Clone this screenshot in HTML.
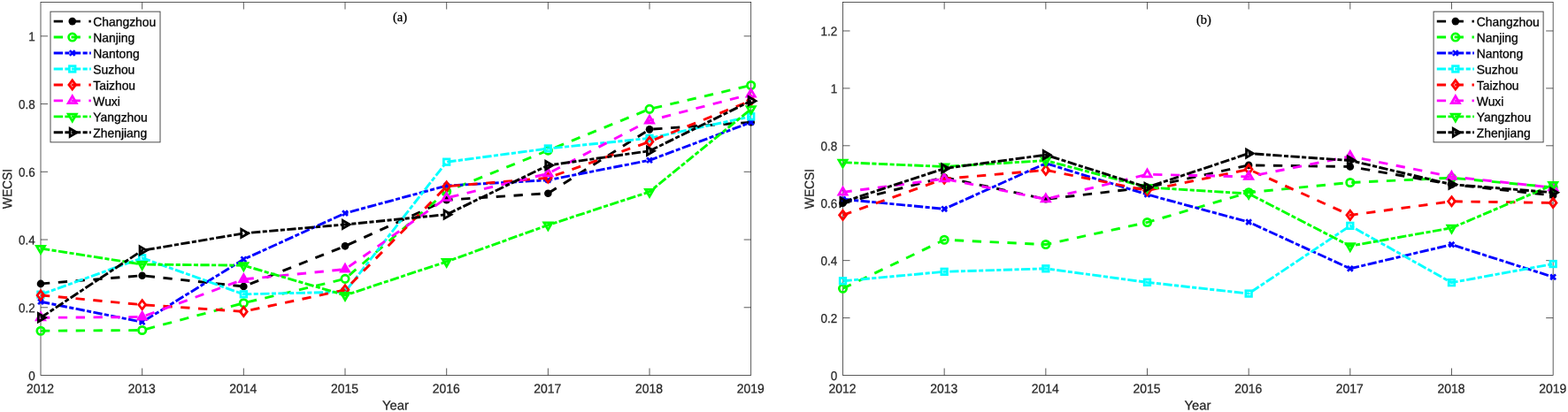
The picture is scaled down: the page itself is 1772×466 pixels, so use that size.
<!DOCTYPE html>
<html lang="en">
<head>
<meta charset="utf-8">
<title>WECSI by city, 2012-2019</title>
<style>
html, body { margin: 0; padding: 0; background: #ffffff; }
body { width: 1772px; height: 466px; overflow: hidden; position: relative; }
svg text { white-space: pre; }
</style>
</head>
<body>
<svg width="1772" height="466" viewBox="0 0 1772 466" style="display:block;position:absolute;left:0;top:0">
<rect x="0" y="0" width="1772" height="466" fill="#ffffff"/>
<g id="chart-a">
<rect x="46.0" y="2.5" width="802.70" height="422.00" fill="none" stroke="#262626" stroke-width="0.75"/>
<path d="M160.67 424.5v-8M160.67 2.5v8M275.34 424.5v-8M275.34 2.5v8M390.01 424.5v-8M390.01 2.5v8M504.69 424.5v-8M504.69 2.5v8M619.36 424.5v-8M619.36 2.5v8M734.03 424.5v-8M734.03 2.5v8M46.0 347.77h8M848.7 347.77h-8M46.0 271.05h8M848.7 271.05h-8M46.0 194.32h8M848.7 194.32h-8M46.0 117.59h8M848.7 117.59h-8M46.0 40.86h8M848.7 40.86h-8" fill="none" stroke="#262626" stroke-width="0.75"/>
<g class="labels">
<text transform="translate(45.50 444.50) rotate(0.03) scale(0.955 1)" text-anchor="middle" text-rendering="geometricPrecision" font-family="'Liberation Sans', sans-serif" font-size="14.6" fill="#262626" stroke="#262626" stroke-width="0.25">2012</text>
<text transform="translate(160.17 444.50) rotate(0.03) scale(0.955 1)" text-anchor="middle" text-rendering="geometricPrecision" font-family="'Liberation Sans', sans-serif" font-size="14.6" fill="#262626" stroke="#262626" stroke-width="0.25">2013</text>
<text transform="translate(274.84 444.50) rotate(0.03) scale(0.955 1)" text-anchor="middle" text-rendering="geometricPrecision" font-family="'Liberation Sans', sans-serif" font-size="14.6" fill="#262626" stroke="#262626" stroke-width="0.25">2014</text>
<text transform="translate(389.51 444.50) rotate(0.03) scale(0.955 1)" text-anchor="middle" text-rendering="geometricPrecision" font-family="'Liberation Sans', sans-serif" font-size="14.6" fill="#262626" stroke="#262626" stroke-width="0.25">2015</text>
<text transform="translate(504.19 444.50) rotate(0.03) scale(0.955 1)" text-anchor="middle" text-rendering="geometricPrecision" font-family="'Liberation Sans', sans-serif" font-size="14.6" fill="#262626" stroke="#262626" stroke-width="0.25">2016</text>
<text transform="translate(618.86 444.50) rotate(0.03) scale(0.955 1)" text-anchor="middle" text-rendering="geometricPrecision" font-family="'Liberation Sans', sans-serif" font-size="14.6" fill="#262626" stroke="#262626" stroke-width="0.25">2017</text>
<text transform="translate(733.53 444.50) rotate(0.03) scale(0.955 1)" text-anchor="middle" text-rendering="geometricPrecision" font-family="'Liberation Sans', sans-serif" font-size="14.6" fill="#262626" stroke="#262626" stroke-width="0.25">2018</text>
<text transform="translate(848.20 444.50) rotate(0.03) scale(0.955 1)" text-anchor="middle" text-rendering="geometricPrecision" font-family="'Liberation Sans', sans-serif" font-size="14.6" fill="#262626" stroke="#262626" stroke-width="0.25">2019</text>
<text transform="translate(39.70 429.90) rotate(0.03) scale(0.94 1)" text-anchor="end" text-rendering="geometricPrecision" font-family="'Liberation Sans', sans-serif" font-size="14.3" fill="#262626" stroke="#262626" stroke-width="0.25">0</text>
<text transform="translate(39.70 353.17) rotate(0.03) scale(0.94 1)" text-anchor="end" text-rendering="geometricPrecision" font-family="'Liberation Sans', sans-serif" font-size="14.3" fill="#262626" stroke="#262626" stroke-width="0.25">0.2</text>
<text transform="translate(39.70 276.45) rotate(0.03) scale(0.94 1)" text-anchor="end" text-rendering="geometricPrecision" font-family="'Liberation Sans', sans-serif" font-size="14.3" fill="#262626" stroke="#262626" stroke-width="0.25">0.4</text>
<text transform="translate(39.70 199.72) rotate(0.03) scale(0.94 1)" text-anchor="end" text-rendering="geometricPrecision" font-family="'Liberation Sans', sans-serif" font-size="14.3" fill="#262626" stroke="#262626" stroke-width="0.25">0.6</text>
<text transform="translate(39.70 122.99) rotate(0.03) scale(0.94 1)" text-anchor="end" text-rendering="geometricPrecision" font-family="'Liberation Sans', sans-serif" font-size="14.3" fill="#262626" stroke="#262626" stroke-width="0.25">0.8</text>
<text transform="translate(39.70 46.26) rotate(0.03) scale(0.94 1)" text-anchor="end" text-rendering="geometricPrecision" font-family="'Liberation Sans', sans-serif" font-size="14.3" fill="#262626" stroke="#262626" stroke-width="0.25">1</text>
<text transform="translate(446.95 463.40) rotate(0.03) scale(1.0 1)" text-anchor="middle" text-rendering="geometricPrecision" font-family="'Liberation Sans', sans-serif" font-size="14.8" fill="#262626" stroke="#262626" stroke-width="0.25">Year</text>
<text transform="translate(13.20 213.50) rotate(-89.97) scale(0.935 1)" text-anchor="middle" text-rendering="geometricPrecision" font-family="'Liberation Sans', sans-serif" font-size="14.8" fill="#262626" stroke="#262626" stroke-width="0.25">WECSI</text>
</g>
<g class="s-changzhou">
<path d="M46.00 320.92L160.67 311.71L275.34 323.99L390.01 278.33L504.69 226.16L619.36 218.68L734.03 146.36L848.70 138.31" fill="none" stroke="#000000" stroke-width="2.9" stroke-dasharray="10.3 9.55" stroke-linejoin="round"/>
<circle cx="46.00" cy="320.92" r="4.3" fill="#000000"/>
<circle cx="160.67" cy="311.71" r="4.3" fill="#000000"/>
<circle cx="275.34" cy="323.99" r="4.3" fill="#000000"/>
<circle cx="390.01" cy="278.33" r="4.3" fill="#000000"/>
<circle cx="504.69" cy="226.16" r="4.3" fill="#000000"/>
<circle cx="619.36" cy="218.68" r="4.3" fill="#000000"/>
<circle cx="734.03" cy="146.36" r="4.3" fill="#000000"/>
<circle cx="848.70" cy="138.31" r="4.3" fill="#000000"/>
</g>
<g class="s-nanjing">
<path d="M46.00 374.24L160.67 373.48L275.34 342.79L390.01 315.36L504.69 216.57L619.36 170.15L734.03 123.35L848.70 96.49" fill="none" stroke="#00ff00" stroke-width="2.9" stroke-dasharray="10.3 9.55" stroke-linejoin="round"/>
<circle cx="46.00" cy="374.24" r="4.2" fill="none" stroke="#00ff00" stroke-width="2.7"/>
<circle cx="160.67" cy="373.48" r="4.2" fill="none" stroke="#00ff00" stroke-width="2.7"/>
<circle cx="275.34" cy="342.79" r="4.2" fill="none" stroke="#00ff00" stroke-width="2.7"/>
<circle cx="390.01" cy="315.36" r="4.2" fill="none" stroke="#00ff00" stroke-width="2.7"/>
<circle cx="504.69" cy="216.57" r="4.2" fill="none" stroke="#00ff00" stroke-width="2.7"/>
<circle cx="619.36" cy="170.15" r="4.2" fill="none" stroke="#00ff00" stroke-width="2.7"/>
<circle cx="734.03" cy="123.35" r="4.2" fill="none" stroke="#00ff00" stroke-width="2.7"/>
<circle cx="848.70" cy="96.49" r="4.2" fill="none" stroke="#00ff00" stroke-width="2.7"/>
</g>
<g class="s-nantong">
<path d="M46.00 341.25L160.67 364.27L275.34 293.30L390.01 241.12L504.69 210.05L619.36 203.72L734.03 181.27L848.70 138.31" fill="none" stroke="#0000ff" stroke-width="2.9" stroke-dasharray="10.3 2.4 5.1 2.4" stroke-linejoin="round"/>
<path d="M43.10 338.35L48.90 344.15M43.10 344.15L48.90 338.35" fill="none" stroke="#0000ff" stroke-width="2.7"/>
<path d="M157.77 361.37L163.57 367.17M157.77 367.17L163.57 361.37" fill="none" stroke="#0000ff" stroke-width="2.7"/>
<path d="M272.44 290.40L278.24 296.20M272.44 296.20L278.24 290.40" fill="none" stroke="#0000ff" stroke-width="2.7"/>
<path d="M387.11 238.22L392.91 244.02M387.11 244.02L392.91 238.22" fill="none" stroke="#0000ff" stroke-width="2.7"/>
<path d="M501.79 207.15L507.59 212.95M501.79 212.95L507.59 207.15" fill="none" stroke="#0000ff" stroke-width="2.7"/>
<path d="M616.46 200.82L622.26 206.62M616.46 206.62L622.26 200.82" fill="none" stroke="#0000ff" stroke-width="2.7"/>
<path d="M731.13 178.37L736.93 184.17M731.13 184.17L736.93 178.37" fill="none" stroke="#0000ff" stroke-width="2.7"/>
<path d="M845.80 135.41L851.60 141.21M845.80 141.21L851.60 135.41" fill="none" stroke="#0000ff" stroke-width="2.7"/>
</g>
<g class="s-suzhou">
<path d="M46.00 333.19L160.67 291.76L275.34 332.81L390.01 330.13L504.69 183.19L619.36 168.00L734.03 156.34L848.70 131.79" fill="none" stroke="#00ffff" stroke-width="2.9" stroke-dasharray="10.3 2.4 5.1 2.4" stroke-linejoin="round"/>
<rect x="42.70" y="329.89" width="6.6" height="6.6" fill="none" stroke="#00ffff" stroke-width="2.7"/>
<rect x="157.37" y="288.46" width="6.6" height="6.6" fill="none" stroke="#00ffff" stroke-width="2.7"/>
<rect x="272.04" y="329.51" width="6.6" height="6.6" fill="none" stroke="#00ffff" stroke-width="2.7"/>
<rect x="386.71" y="326.83" width="6.6" height="6.6" fill="none" stroke="#00ffff" stroke-width="2.7"/>
<rect x="501.39" y="179.89" width="6.6" height="6.6" fill="none" stroke="#00ffff" stroke-width="2.7"/>
<rect x="616.06" y="164.70" width="6.6" height="6.6" fill="none" stroke="#00ffff" stroke-width="2.7"/>
<rect x="730.73" y="153.04" width="6.6" height="6.6" fill="none" stroke="#00ffff" stroke-width="2.7"/>
<rect x="845.40" y="128.49" width="6.6" height="6.6" fill="none" stroke="#00ffff" stroke-width="2.7"/>
</g>
<g class="s-taizhou">
<path d="M46.00 333.96L160.67 344.70L275.34 352.38L390.01 327.82L504.69 210.81L619.36 201.22L734.03 160.17L848.70 113.75" fill="none" stroke="#ff0000" stroke-width="2.9" stroke-dasharray="10.3 9.55" stroke-linejoin="round"/>
<path d="M46.00 328.86L49.90 333.96L46.00 339.06L42.10 333.96Z" fill="none" stroke="#ff0000" stroke-width="2.7" stroke-linejoin="miter"/>
<path d="M160.67 339.60L164.57 344.70L160.67 349.80L156.77 344.70Z" fill="none" stroke="#ff0000" stroke-width="2.7" stroke-linejoin="miter"/>
<path d="M275.34 347.28L279.24 352.38L275.34 357.48L271.44 352.38Z" fill="none" stroke="#ff0000" stroke-width="2.7" stroke-linejoin="miter"/>
<path d="M390.01 322.72L393.91 327.82L390.01 332.92L386.11 327.82Z" fill="none" stroke="#ff0000" stroke-width="2.7" stroke-linejoin="miter"/>
<path d="M504.69 205.71L508.59 210.81L504.69 215.91L500.79 210.81Z" fill="none" stroke="#ff0000" stroke-width="2.7" stroke-linejoin="miter"/>
<path d="M619.36 196.12L623.26 201.22L619.36 206.32L615.46 201.22Z" fill="none" stroke="#ff0000" stroke-width="2.7" stroke-linejoin="miter"/>
<path d="M734.03 155.07L737.93 160.17L734.03 165.27L730.13 160.17Z" fill="none" stroke="#ff0000" stroke-width="2.7" stroke-linejoin="miter"/>
<path d="M848.70 108.65L852.60 113.75L848.70 118.85L844.80 113.75Z" fill="none" stroke="#ff0000" stroke-width="2.7" stroke-linejoin="miter"/>
</g>
<g class="s-wuxi">
<path d="M46.00 359.28L160.67 358.51L275.34 315.93L390.01 304.61L504.69 223.86L619.36 196.24L734.03 136.39L848.70 106.47" fill="none" stroke="#ff00ff" stroke-width="2.9" stroke-dasharray="10.3 9.55" stroke-linejoin="round"/>
<path d="M46.00 353.98L50.59 361.93L41.41 361.93Z" fill="none" stroke="#ff00ff" stroke-width="2.7" stroke-linejoin="miter"/>
<path d="M160.67 353.21L165.26 361.16L156.08 361.16Z" fill="#ff00ff" stroke="#ff00ff" stroke-width="2.7" stroke-linejoin="miter"/>
<path d="M275.34 310.63L279.93 318.58L270.75 318.58Z" fill="#ff00ff" stroke="#ff00ff" stroke-width="2.7" stroke-linejoin="miter"/>
<path d="M390.01 299.31L394.60 307.26L385.42 307.26Z" fill="#ff00ff" stroke="#ff00ff" stroke-width="2.7" stroke-linejoin="miter"/>
<path d="M504.69 218.56L509.28 226.51L500.10 226.51Z" fill="none" stroke="#ff00ff" stroke-width="2.7" stroke-linejoin="miter"/>
<path d="M619.36 190.94L623.95 198.89L614.77 198.89Z" fill="none" stroke="#ff00ff" stroke-width="2.7" stroke-linejoin="miter"/>
<path d="M734.03 131.09L738.62 139.04L729.44 139.04Z" fill="none" stroke="#ff00ff" stroke-width="2.7" stroke-linejoin="miter"/>
<path d="M848.70 101.17L853.29 109.12L844.11 109.12Z" fill="none" stroke="#ff00ff" stroke-width="2.7" stroke-linejoin="miter"/>
</g>
<g class="s-yangzhou">
<path d="M46.00 281.02L160.67 299.05L275.34 300.20L390.01 333.96L504.69 295.98L619.36 254.55L734.03 216.95L848.70 123.35" fill="none" stroke="#00ff00" stroke-width="2.9" stroke-dasharray="10.3 2.4 5.1 2.4" stroke-linejoin="round"/>
<path d="M46.00 286.32L50.59 278.37L41.41 278.37Z" fill="none" stroke="#00ff00" stroke-width="2.7" stroke-linejoin="miter"/>
<path d="M160.67 304.35L165.26 296.40L156.08 296.40Z" fill="none" stroke="#00ff00" stroke-width="2.7" stroke-linejoin="miter"/>
<path d="M275.34 305.50L279.93 297.55L270.75 297.55Z" fill="none" stroke="#00ff00" stroke-width="2.7" stroke-linejoin="miter"/>
<path d="M390.01 339.26L394.60 331.31L385.42 331.31Z" fill="none" stroke="#00ff00" stroke-width="2.7" stroke-linejoin="miter"/>
<path d="M504.69 301.28L509.28 293.33L500.10 293.33Z" fill="none" stroke="#00ff00" stroke-width="2.7" stroke-linejoin="miter"/>
<path d="M619.36 259.85L623.95 251.90L614.77 251.90Z" fill="none" stroke="#00ff00" stroke-width="2.7" stroke-linejoin="miter"/>
<path d="M734.03 222.25L738.62 214.30L729.44 214.30Z" fill="none" stroke="#00ff00" stroke-width="2.7" stroke-linejoin="miter"/>
<path d="M848.70 128.65L853.29 120.70L844.11 120.70Z" fill="none" stroke="#00ff00" stroke-width="2.7" stroke-linejoin="miter"/>
</g>
<g class="s-zhenjiang">
<path d="M46.00 359.28L160.67 283.32L275.34 263.91L390.01 253.90L504.69 242.66L619.36 187.03L734.03 170.72L848.70 114.14" fill="none" stroke="#000000" stroke-width="2.9" stroke-dasharray="10.3 2.4 5.1 2.4" stroke-linejoin="round"/>
<path d="M51.30 359.28L43.35 354.69L43.35 363.87Z" fill="none" stroke="#000000" stroke-width="2.7" stroke-linejoin="miter"/>
<path d="M165.97 283.32L158.02 278.73L158.02 287.91Z" fill="none" stroke="#000000" stroke-width="2.7" stroke-linejoin="miter"/>
<path d="M280.64 263.91L272.69 259.32L272.69 268.50Z" fill="none" stroke="#000000" stroke-width="2.7" stroke-linejoin="miter"/>
<path d="M395.31 253.90L387.36 249.31L387.36 258.49Z" fill="none" stroke="#000000" stroke-width="2.7" stroke-linejoin="miter"/>
<path d="M509.99 242.66L502.04 238.07L502.04 247.25Z" fill="none" stroke="#000000" stroke-width="2.7" stroke-linejoin="miter"/>
<path d="M624.66 187.03L616.71 182.44L616.71 191.62Z" fill="none" stroke="#000000" stroke-width="2.7" stroke-linejoin="miter"/>
<path d="M739.33 170.72L731.38 166.13L731.38 175.31Z" fill="none" stroke="#000000" stroke-width="2.7" stroke-linejoin="miter"/>
<path d="M854.00 114.14L846.05 109.55L846.05 118.73Z" fill="none" stroke="#000000" stroke-width="2.7" stroke-linejoin="miter"/>
</g>
<g class="legend">
<rect x="57.0" y="13.15" width="124.0" height="147.7" fill="#ffffff" stroke="#4a4a4a" stroke-width="1"/>
<path d="M60.70 24.10L102.80 24.10" fill="none" stroke="#000000" stroke-width="2.9" stroke-dasharray="10.3 9.55"/>
<circle cx="81.75" cy="24.10" r="4.3" fill="#000000"/>
<text transform="translate(105.30 29.60) rotate(0.03) scale(0.983 1)" text-anchor="start" text-rendering="geometricPrecision" font-family="'Liberation Sans', sans-serif" font-size="14.1" fill="#000000" stroke="#000000" stroke-width="0.3">Changzhou</text>
<path d="M60.70 42.06L102.80 42.06" fill="none" stroke="#00ff00" stroke-width="2.9" stroke-dasharray="10.3 9.55"/>
<circle cx="81.75" cy="42.06" r="4.2" fill="none" stroke="#00ff00" stroke-width="2.7"/>
<text transform="translate(105.30 47.56) rotate(0.03) scale(0.983 1)" text-anchor="start" text-rendering="geometricPrecision" font-family="'Liberation Sans', sans-serif" font-size="14.1" fill="#000000" stroke="#000000" stroke-width="0.3">Nanjing</text>
<path d="M60.70 60.02L102.80 60.02" fill="none" stroke="#0000ff" stroke-width="2.9" stroke-dasharray="10.3 2.4 5.1 2.4"/>
<path d="M78.85 57.12L84.65 62.92M78.85 62.92L84.65 57.12" fill="none" stroke="#0000ff" stroke-width="2.7"/>
<text transform="translate(105.30 65.52) rotate(0.03) scale(0.983 1)" text-anchor="start" text-rendering="geometricPrecision" font-family="'Liberation Sans', sans-serif" font-size="14.1" fill="#000000" stroke="#000000" stroke-width="0.3">Nantong</text>
<path d="M60.70 77.98L102.80 77.98" fill="none" stroke="#00ffff" stroke-width="2.9" stroke-dasharray="10.3 2.4 5.1 2.4"/>
<rect x="78.45" y="74.68" width="6.6" height="6.6" fill="none" stroke="#00ffff" stroke-width="2.7"/>
<text transform="translate(105.30 83.48) rotate(0.03) scale(0.983 1)" text-anchor="start" text-rendering="geometricPrecision" font-family="'Liberation Sans', sans-serif" font-size="14.1" fill="#000000" stroke="#000000" stroke-width="0.3">Suzhou</text>
<path d="M60.70 95.94L102.80 95.94" fill="none" stroke="#ff0000" stroke-width="2.9" stroke-dasharray="10.3 9.55"/>
<path d="M81.75 90.84L85.65 95.94L81.75 101.04L77.85 95.94Z" fill="none" stroke="#ff0000" stroke-width="2.7" stroke-linejoin="miter"/>
<text transform="translate(105.30 101.44) rotate(0.03) scale(0.983 1)" text-anchor="start" text-rendering="geometricPrecision" font-family="'Liberation Sans', sans-serif" font-size="14.1" fill="#000000" stroke="#000000" stroke-width="0.3">Taizhou</text>
<path d="M60.70 113.90L102.80 113.90" fill="none" stroke="#ff00ff" stroke-width="2.9" stroke-dasharray="10.3 9.55"/>
<path d="M81.75 108.60L86.34 116.55L77.16 116.55Z" fill="none" stroke="#ff00ff" stroke-width="2.7" stroke-linejoin="miter"/>
<text transform="translate(105.30 119.40) rotate(0.03) scale(0.983 1)" text-anchor="start" text-rendering="geometricPrecision" font-family="'Liberation Sans', sans-serif" font-size="14.1" fill="#000000" stroke="#000000" stroke-width="0.3">Wuxi</text>
<path d="M60.70 131.86L102.80 131.86" fill="none" stroke="#00ff00" stroke-width="2.9" stroke-dasharray="10.3 2.4 5.1 2.4"/>
<path d="M81.75 137.16L86.34 129.21L77.16 129.21Z" fill="none" stroke="#00ff00" stroke-width="2.7" stroke-linejoin="miter"/>
<text transform="translate(105.30 137.36) rotate(0.03) scale(0.983 1)" text-anchor="start" text-rendering="geometricPrecision" font-family="'Liberation Sans', sans-serif" font-size="14.1" fill="#000000" stroke="#000000" stroke-width="0.3">Yangzhou</text>
<path d="M60.70 149.82L102.80 149.82" fill="none" stroke="#000000" stroke-width="2.9" stroke-dasharray="10.3 2.4 5.1 2.4"/>
<path d="M87.05 149.82L79.10 145.23L79.10 154.41Z" fill="none" stroke="#000000" stroke-width="2.7" stroke-linejoin="miter"/>
<text transform="translate(105.30 155.32) rotate(0.03) scale(0.983 1)" text-anchor="start" text-rendering="geometricPrecision" font-family="'Liberation Sans', sans-serif" font-size="14.1" fill="#000000" stroke="#000000" stroke-width="0.3">Zhenjiang</text>
</g>
<text x="452.0" y="24.0" text-anchor="middle" font-family="'Liberation Serif', serif" font-size="14.5" fill="#000000" stroke="#000000" stroke-width="0.25">(a)</text>
</g>
<g id="chart-b">
<rect x="952.5" y="2.5" width="802.65" height="422.00" fill="none" stroke="#262626" stroke-width="0.75"/>
<path d="M1067.16 424.5v-8M1067.16 2.5v8M1181.83 424.5v-8M1181.83 2.5v8M1296.49 424.5v-8M1296.49 2.5v8M1411.16 424.5v-8M1411.16 2.5v8M1525.82 424.5v-8M1525.82 2.5v8M1640.49 424.5v-8M1640.49 2.5v8M952.5 359.58h8M1755.15 359.58h-8M952.5 294.65h8M1755.15 294.65h-8M952.5 229.73h8M1755.15 229.73h-8M952.5 164.81h8M1755.15 164.81h-8M952.5 99.88h8M1755.15 99.88h-8M952.5 34.96h8M1755.15 34.96h-8" fill="none" stroke="#262626" stroke-width="0.75"/>
<g class="labels">
<text transform="translate(952.00 444.50) rotate(0.03) scale(0.955 1)" text-anchor="middle" text-rendering="geometricPrecision" font-family="'Liberation Sans', sans-serif" font-size="14.6" fill="#262626" stroke="#262626" stroke-width="0.25">2012</text>
<text transform="translate(1066.66 444.50) rotate(0.03) scale(0.955 1)" text-anchor="middle" text-rendering="geometricPrecision" font-family="'Liberation Sans', sans-serif" font-size="14.6" fill="#262626" stroke="#262626" stroke-width="0.25">2013</text>
<text transform="translate(1181.33 444.50) rotate(0.03) scale(0.955 1)" text-anchor="middle" text-rendering="geometricPrecision" font-family="'Liberation Sans', sans-serif" font-size="14.6" fill="#262626" stroke="#262626" stroke-width="0.25">2014</text>
<text transform="translate(1295.99 444.50) rotate(0.03) scale(0.955 1)" text-anchor="middle" text-rendering="geometricPrecision" font-family="'Liberation Sans', sans-serif" font-size="14.6" fill="#262626" stroke="#262626" stroke-width="0.25">2015</text>
<text transform="translate(1410.66 444.50) rotate(0.03) scale(0.955 1)" text-anchor="middle" text-rendering="geometricPrecision" font-family="'Liberation Sans', sans-serif" font-size="14.6" fill="#262626" stroke="#262626" stroke-width="0.25">2016</text>
<text transform="translate(1525.32 444.50) rotate(0.03) scale(0.955 1)" text-anchor="middle" text-rendering="geometricPrecision" font-family="'Liberation Sans', sans-serif" font-size="14.6" fill="#262626" stroke="#262626" stroke-width="0.25">2017</text>
<text transform="translate(1639.99 444.50) rotate(0.03) scale(0.955 1)" text-anchor="middle" text-rendering="geometricPrecision" font-family="'Liberation Sans', sans-serif" font-size="14.6" fill="#262626" stroke="#262626" stroke-width="0.25">2018</text>
<text transform="translate(1754.65 444.50) rotate(0.03) scale(0.955 1)" text-anchor="middle" text-rendering="geometricPrecision" font-family="'Liberation Sans', sans-serif" font-size="14.6" fill="#262626" stroke="#262626" stroke-width="0.25">2019</text>
<text transform="translate(946.20 429.90) rotate(0.03) scale(0.94 1)" text-anchor="end" text-rendering="geometricPrecision" font-family="'Liberation Sans', sans-serif" font-size="14.3" fill="#262626" stroke="#262626" stroke-width="0.25">0</text>
<text transform="translate(946.20 364.98) rotate(0.03) scale(0.94 1)" text-anchor="end" text-rendering="geometricPrecision" font-family="'Liberation Sans', sans-serif" font-size="14.3" fill="#262626" stroke="#262626" stroke-width="0.25">0.2</text>
<text transform="translate(946.20 300.05) rotate(0.03) scale(0.94 1)" text-anchor="end" text-rendering="geometricPrecision" font-family="'Liberation Sans', sans-serif" font-size="14.3" fill="#262626" stroke="#262626" stroke-width="0.25">0.4</text>
<text transform="translate(946.20 235.13) rotate(0.03) scale(0.94 1)" text-anchor="end" text-rendering="geometricPrecision" font-family="'Liberation Sans', sans-serif" font-size="14.3" fill="#262626" stroke="#262626" stroke-width="0.25">0.6</text>
<text transform="translate(946.20 170.21) rotate(0.03) scale(0.94 1)" text-anchor="end" text-rendering="geometricPrecision" font-family="'Liberation Sans', sans-serif" font-size="14.3" fill="#262626" stroke="#262626" stroke-width="0.25">0.8</text>
<text transform="translate(946.20 105.28) rotate(0.03) scale(0.94 1)" text-anchor="end" text-rendering="geometricPrecision" font-family="'Liberation Sans', sans-serif" font-size="14.3" fill="#262626" stroke="#262626" stroke-width="0.25">1</text>
<text transform="translate(946.20 40.36) rotate(0.03) scale(0.94 1)" text-anchor="end" text-rendering="geometricPrecision" font-family="'Liberation Sans', sans-serif" font-size="14.3" fill="#262626" stroke="#262626" stroke-width="0.25">1.2</text>
<text transform="translate(1353.42 463.40) rotate(0.03) scale(1.0 1)" text-anchor="middle" text-rendering="geometricPrecision" font-family="'Liberation Sans', sans-serif" font-size="14.8" fill="#262626" stroke="#262626" stroke-width="0.25">Year</text>
<text transform="translate(919.70 213.50) rotate(-89.97) scale(0.935 1)" text-anchor="middle" text-rendering="geometricPrecision" font-family="'Liberation Sans', sans-serif" font-size="14.8" fill="#262626" stroke="#262626" stroke-width="0.25">WECSI</text>
</g>
<g class="s-changzhou">
<path d="M952.50 229.73L1067.16 200.52L1181.83 225.28L1296.49 211.88L1411.16 186.88L1525.82 188.50L1640.49 208.63L1755.15 220.97" fill="none" stroke="#000000" stroke-width="2.9" stroke-dasharray="10.3 9.55" stroke-linejoin="round"/>
<circle cx="952.50" cy="229.73" r="4.3" fill="#000000"/>
<circle cx="1067.16" cy="200.52" r="4.3" fill="#000000"/>
<circle cx="1181.83" cy="225.28" r="4.3" fill="#000000"/>
<circle cx="1296.49" cy="211.88" r="4.3" fill="#000000"/>
<circle cx="1411.16" cy="186.88" r="4.3" fill="#000000"/>
<circle cx="1525.82" cy="188.50" r="4.3" fill="#000000"/>
<circle cx="1640.49" cy="208.63" r="4.3" fill="#000000"/>
<circle cx="1755.15" cy="220.97" r="4.3" fill="#000000"/>
</g>
<g class="s-nanjing">
<path d="M952.50 326.30L1067.16 271.28L1181.83 276.54L1296.49 251.54L1411.16 217.72L1525.82 206.52L1640.49 201.16L1755.15 211.88" fill="none" stroke="#00ff00" stroke-width="2.9" stroke-dasharray="10.3 9.55" stroke-linejoin="round"/>
<circle cx="952.50" cy="326.30" r="4.2" fill="none" stroke="#00ff00" stroke-width="2.7"/>
<circle cx="1067.16" cy="271.28" r="4.2" fill="none" stroke="#00ff00" stroke-width="2.7"/>
<circle cx="1181.83" cy="276.54" r="4.2" fill="none" stroke="#00ff00" stroke-width="2.7"/>
<circle cx="1296.49" cy="251.54" r="4.2" fill="none" stroke="#00ff00" stroke-width="2.7"/>
<circle cx="1411.16" cy="217.72" r="4.2" fill="none" stroke="#00ff00" stroke-width="2.7"/>
<circle cx="1525.82" cy="206.52" r="4.2" fill="none" stroke="#00ff00" stroke-width="2.7"/>
<circle cx="1640.49" cy="201.16" r="4.2" fill="none" stroke="#00ff00" stroke-width="2.7"/>
<circle cx="1755.15" cy="211.88" r="4.2" fill="none" stroke="#00ff00" stroke-width="2.7"/>
</g>
<g class="s-nantong">
<path d="M952.50 225.28L1067.16 236.32L1181.83 184.77L1296.49 219.99L1411.16 251.16L1525.82 303.81L1640.49 276.64L1755.15 313.32" fill="none" stroke="#0000ff" stroke-width="2.9" stroke-dasharray="10.3 2.4 5.1 2.4" stroke-linejoin="round"/>
<path d="M949.60 222.38L955.40 228.18M949.60 228.18L955.40 222.38" fill="none" stroke="#0000ff" stroke-width="2.7"/>
<path d="M1064.26 233.42L1070.06 239.22M1064.26 239.22L1070.06 233.42" fill="none" stroke="#0000ff" stroke-width="2.7"/>
<path d="M1178.93 181.87L1184.73 187.67M1178.93 187.67L1184.73 181.87" fill="none" stroke="#0000ff" stroke-width="2.7"/>
<path d="M1293.59 217.09L1299.39 222.89M1293.59 222.89L1299.39 217.09" fill="none" stroke="#0000ff" stroke-width="2.7"/>
<path d="M1408.26 248.26L1414.06 254.06M1408.26 254.06L1414.06 248.26" fill="none" stroke="#0000ff" stroke-width="2.7"/>
<path d="M1522.92 300.91L1528.72 306.71M1522.92 306.71L1528.72 300.91" fill="none" stroke="#0000ff" stroke-width="2.7"/>
<path d="M1637.59 273.74L1643.39 279.54M1637.59 279.54L1643.39 273.74" fill="none" stroke="#0000ff" stroke-width="2.7"/>
<path d="M1752.25 310.42L1758.05 316.22M1752.25 316.22L1758.05 310.42" fill="none" stroke="#0000ff" stroke-width="2.7"/>
</g>
<g class="s-suzhou">
<path d="M952.50 317.80L1067.16 307.31L1181.83 303.81L1296.49 319.32L1411.16 332.08L1525.82 255.38L1640.49 319.65L1755.15 298.55" fill="none" stroke="#00ffff" stroke-width="2.9" stroke-dasharray="10.3 2.4 5.1 2.4" stroke-linejoin="round"/>
<rect x="949.20" y="314.50" width="6.6" height="6.6" fill="none" stroke="#00ffff" stroke-width="2.7"/>
<rect x="1063.86" y="304.01" width="6.6" height="6.6" fill="none" stroke="#00ffff" stroke-width="2.7"/>
<rect x="1178.53" y="300.51" width="6.6" height="6.6" fill="none" stroke="#00ffff" stroke-width="2.7"/>
<rect x="1293.19" y="316.02" width="6.6" height="6.6" fill="none" stroke="#00ffff" stroke-width="2.7"/>
<rect x="1407.86" y="328.78" width="6.6" height="6.6" fill="none" stroke="#00ffff" stroke-width="2.7"/>
<rect x="1522.52" y="252.08" width="6.6" height="6.6" fill="none" stroke="#00ffff" stroke-width="2.7"/>
<rect x="1637.19" y="316.35" width="6.6" height="6.6" fill="none" stroke="#00ffff" stroke-width="2.7"/>
<rect x="1751.85" y="295.25" width="6.6" height="6.6" fill="none" stroke="#00ffff" stroke-width="2.7"/>
</g>
<g class="s-taizhou">
<path d="M952.50 243.36L1067.16 202.27L1181.83 192.40L1296.49 215.45L1411.16 191.52L1525.82 243.36L1640.49 227.78L1755.15 229.41" fill="none" stroke="#ff0000" stroke-width="2.9" stroke-dasharray="10.3 9.55" stroke-linejoin="round"/>
<path d="M952.50 238.26L956.40 243.36L952.50 248.46L948.60 243.36Z" fill="none" stroke="#ff0000" stroke-width="2.7" stroke-linejoin="miter"/>
<path d="M1067.16 197.17L1071.06 202.27L1067.16 207.37L1063.26 202.27Z" fill="none" stroke="#ff0000" stroke-width="2.7" stroke-linejoin="miter"/>
<path d="M1181.83 187.30L1185.73 192.40L1181.83 197.50L1177.93 192.40Z" fill="none" stroke="#ff0000" stroke-width="2.7" stroke-linejoin="miter"/>
<path d="M1296.49 210.35L1300.39 215.45L1296.49 220.55L1292.59 215.45Z" fill="none" stroke="#ff0000" stroke-width="2.7" stroke-linejoin="miter"/>
<path d="M1411.16 186.42L1415.06 191.52L1411.16 196.62L1407.26 191.52Z" fill="none" stroke="#ff0000" stroke-width="2.7" stroke-linejoin="miter"/>
<path d="M1525.82 238.26L1529.72 243.36L1525.82 248.46L1521.92 243.36Z" fill="none" stroke="#ff0000" stroke-width="2.7" stroke-linejoin="miter"/>
<path d="M1640.49 222.68L1644.39 227.78L1640.49 232.88L1636.59 227.78Z" fill="none" stroke="#ff0000" stroke-width="2.7" stroke-linejoin="miter"/>
<path d="M1755.15 224.31L1759.05 229.41L1755.15 234.51L1751.25 229.41Z" fill="none" stroke="#ff0000" stroke-width="2.7" stroke-linejoin="miter"/>
</g>
<g class="s-wuxi">
<path d="M952.50 217.40L1067.16 202.27L1181.83 225.28L1296.49 197.27L1411.16 199.87L1525.82 176.82L1640.49 199.87L1755.15 212.20" fill="none" stroke="#ff00ff" stroke-width="2.9" stroke-dasharray="10.3 9.55" stroke-linejoin="round"/>
<path d="M952.50 212.10L957.09 220.05L947.91 220.05Z" fill="none" stroke="#ff00ff" stroke-width="2.7" stroke-linejoin="miter"/>
<path d="M1067.16 196.97L1071.75 204.92L1062.57 204.92Z" fill="none" stroke="#ff00ff" stroke-width="2.7" stroke-linejoin="miter"/>
<path d="M1181.83 219.98L1186.42 227.93L1177.24 227.93Z" fill="none" stroke="#ff00ff" stroke-width="2.7" stroke-linejoin="miter"/>
<path d="M1296.49 191.97L1301.08 199.92L1291.90 199.92Z" fill="none" stroke="#ff00ff" stroke-width="2.7" stroke-linejoin="miter"/>
<path d="M1411.16 194.57L1415.75 202.52L1406.57 202.52Z" fill="none" stroke="#ff00ff" stroke-width="2.7" stroke-linejoin="miter"/>
<path d="M1525.82 171.52L1530.41 179.47L1521.23 179.47Z" fill="none" stroke="#ff00ff" stroke-width="2.7" stroke-linejoin="miter"/>
<path d="M1640.49 194.57L1645.08 202.52L1635.90 202.52Z" fill="none" stroke="#ff00ff" stroke-width="2.7" stroke-linejoin="miter"/>
<path d="M1755.15 206.90L1759.74 214.85L1750.56 214.85Z" fill="none" stroke="#ff00ff" stroke-width="2.7" stroke-linejoin="miter"/>
</g>
<g class="s-yangzhou">
<path d="M952.50 183.64L1067.16 188.50L1181.83 181.53L1296.49 211.88L1411.16 219.02L1525.82 278.29L1640.49 257.78L1755.15 209.02" fill="none" stroke="#00ff00" stroke-width="2.9" stroke-dasharray="10.3 2.4 5.1 2.4" stroke-linejoin="round"/>
<path d="M952.50 188.94L957.09 180.99L947.91 180.99Z" fill="none" stroke="#00ff00" stroke-width="2.7" stroke-linejoin="miter"/>
<path d="M1067.16 193.80L1071.75 185.85L1062.57 185.85Z" fill="none" stroke="#00ff00" stroke-width="2.7" stroke-linejoin="miter"/>
<path d="M1181.83 186.83L1186.42 178.88L1177.24 178.88Z" fill="none" stroke="#00ff00" stroke-width="2.7" stroke-linejoin="miter"/>
<path d="M1296.49 217.18L1301.08 209.23L1291.90 209.23Z" fill="none" stroke="#00ff00" stroke-width="2.7" stroke-linejoin="miter"/>
<path d="M1411.16 224.32L1415.75 216.37L1406.57 216.37Z" fill="none" stroke="#00ff00" stroke-width="2.7" stroke-linejoin="miter"/>
<path d="M1525.82 283.59L1530.41 275.64L1521.23 275.64Z" fill="none" stroke="#00ff00" stroke-width="2.7" stroke-linejoin="miter"/>
<path d="M1640.49 263.08L1645.08 255.13L1635.90 255.13Z" fill="none" stroke="#00ff00" stroke-width="2.7" stroke-linejoin="miter"/>
<path d="M1755.15 214.32L1759.74 206.37L1750.56 206.37Z" fill="none" stroke="#00ff00" stroke-width="2.7" stroke-linejoin="miter"/>
</g>
<g class="s-zhenjiang">
<path d="M952.50 228.53L1067.16 190.52L1181.83 175.20L1296.49 211.88L1411.16 173.57L1525.82 181.53L1640.49 208.63L1755.15 217.72" fill="none" stroke="#000000" stroke-width="2.9" stroke-dasharray="10.3 2.4 5.1 2.4" stroke-linejoin="round"/>
<path d="M957.80 228.53L949.85 223.94L949.85 233.12Z" fill="none" stroke="#000000" stroke-width="2.7" stroke-linejoin="miter"/>
<path d="M1072.46 190.52L1064.51 185.93L1064.51 195.11Z" fill="none" stroke="#000000" stroke-width="2.7" stroke-linejoin="miter"/>
<path d="M1187.13 175.20L1179.18 170.61L1179.18 179.79Z" fill="none" stroke="#000000" stroke-width="2.7" stroke-linejoin="miter"/>
<path d="M1301.79 211.88L1293.84 207.29L1293.84 216.47Z" fill="none" stroke="#000000" stroke-width="2.7" stroke-linejoin="miter"/>
<path d="M1416.46 173.57L1408.51 168.98L1408.51 178.16Z" fill="none" stroke="#000000" stroke-width="2.7" stroke-linejoin="miter"/>
<path d="M1531.12 181.53L1523.17 176.94L1523.17 186.12Z" fill="none" stroke="#000000" stroke-width="2.7" stroke-linejoin="miter"/>
<path d="M1645.79 208.63L1637.84 204.04L1637.84 213.22Z" fill="none" stroke="#000000" stroke-width="2.7" stroke-linejoin="miter"/>
<path d="M1760.45 217.72L1752.50 213.13L1752.50 222.31Z" fill="none" stroke="#000000" stroke-width="2.7" stroke-linejoin="miter"/>
</g>
<g class="legend">
<rect x="1620.1" y="13.15" width="124.0" height="147.7" fill="#ffffff" stroke="#4a4a4a" stroke-width="1"/>
<path d="M1623.80 24.10L1665.90 24.10" fill="none" stroke="#000000" stroke-width="2.9" stroke-dasharray="10.3 9.55"/>
<circle cx="1644.85" cy="24.10" r="4.3" fill="#000000"/>
<text transform="translate(1668.80 29.60) rotate(0.03) scale(0.983 1)" text-anchor="start" text-rendering="geometricPrecision" font-family="'Liberation Sans', sans-serif" font-size="14.1" fill="#000000" stroke="#000000" stroke-width="0.3">Changzhou</text>
<path d="M1623.80 42.06L1665.90 42.06" fill="none" stroke="#00ff00" stroke-width="2.9" stroke-dasharray="10.3 9.55"/>
<circle cx="1644.85" cy="42.06" r="4.2" fill="none" stroke="#00ff00" stroke-width="2.7"/>
<text transform="translate(1668.80 47.56) rotate(0.03) scale(0.983 1)" text-anchor="start" text-rendering="geometricPrecision" font-family="'Liberation Sans', sans-serif" font-size="14.1" fill="#000000" stroke="#000000" stroke-width="0.3">Nanjing</text>
<path d="M1623.80 60.02L1665.90 60.02" fill="none" stroke="#0000ff" stroke-width="2.9" stroke-dasharray="10.3 2.4 5.1 2.4"/>
<path d="M1641.95 57.12L1647.75 62.92M1641.95 62.92L1647.75 57.12" fill="none" stroke="#0000ff" stroke-width="2.7"/>
<text transform="translate(1668.80 65.52) rotate(0.03) scale(0.983 1)" text-anchor="start" text-rendering="geometricPrecision" font-family="'Liberation Sans', sans-serif" font-size="14.1" fill="#000000" stroke="#000000" stroke-width="0.3">Nantong</text>
<path d="M1623.80 77.98L1665.90 77.98" fill="none" stroke="#00ffff" stroke-width="2.9" stroke-dasharray="10.3 2.4 5.1 2.4"/>
<rect x="1641.55" y="74.68" width="6.6" height="6.6" fill="none" stroke="#00ffff" stroke-width="2.7"/>
<text transform="translate(1668.80 83.48) rotate(0.03) scale(0.983 1)" text-anchor="start" text-rendering="geometricPrecision" font-family="'Liberation Sans', sans-serif" font-size="14.1" fill="#000000" stroke="#000000" stroke-width="0.3">Suzhou</text>
<path d="M1623.80 95.94L1665.90 95.94" fill="none" stroke="#ff0000" stroke-width="2.9" stroke-dasharray="10.3 9.55"/>
<path d="M1644.85 90.84L1648.75 95.94L1644.85 101.04L1640.95 95.94Z" fill="none" stroke="#ff0000" stroke-width="2.7" stroke-linejoin="miter"/>
<text transform="translate(1668.80 101.44) rotate(0.03) scale(0.983 1)" text-anchor="start" text-rendering="geometricPrecision" font-family="'Liberation Sans', sans-serif" font-size="14.1" fill="#000000" stroke="#000000" stroke-width="0.3">Taizhou</text>
<path d="M1623.80 113.90L1665.90 113.90" fill="none" stroke="#ff00ff" stroke-width="2.9" stroke-dasharray="10.3 9.55"/>
<path d="M1644.85 108.60L1649.44 116.55L1640.26 116.55Z" fill="none" stroke="#ff00ff" stroke-width="2.7" stroke-linejoin="miter"/>
<text transform="translate(1668.80 119.40) rotate(0.03) scale(0.983 1)" text-anchor="start" text-rendering="geometricPrecision" font-family="'Liberation Sans', sans-serif" font-size="14.1" fill="#000000" stroke="#000000" stroke-width="0.3">Wuxi</text>
<path d="M1623.80 131.86L1665.90 131.86" fill="none" stroke="#00ff00" stroke-width="2.9" stroke-dasharray="10.3 2.4 5.1 2.4"/>
<path d="M1644.85 137.16L1649.44 129.21L1640.26 129.21Z" fill="none" stroke="#00ff00" stroke-width="2.7" stroke-linejoin="miter"/>
<text transform="translate(1668.80 137.36) rotate(0.03) scale(0.983 1)" text-anchor="start" text-rendering="geometricPrecision" font-family="'Liberation Sans', sans-serif" font-size="14.1" fill="#000000" stroke="#000000" stroke-width="0.3">Yangzhou</text>
<path d="M1623.80 149.82L1665.90 149.82" fill="none" stroke="#000000" stroke-width="2.9" stroke-dasharray="10.3 2.4 5.1 2.4"/>
<path d="M1650.15 149.82L1642.20 145.23L1642.20 154.41Z" fill="none" stroke="#000000" stroke-width="2.7" stroke-linejoin="miter"/>
<text transform="translate(1668.80 155.32) rotate(0.03) scale(0.983 1)" text-anchor="start" text-rendering="geometricPrecision" font-family="'Liberation Sans', sans-serif" font-size="14.1" fill="#000000" stroke="#000000" stroke-width="0.3">Zhenjiang</text>
</g>
<text x="1360.5" y="27.0" text-anchor="middle" font-family="'Liberation Serif', serif" font-size="14.5" fill="#000000" stroke="#000000" stroke-width="0.25">(b)</text>
</g>
</svg>
</body>
</html>
